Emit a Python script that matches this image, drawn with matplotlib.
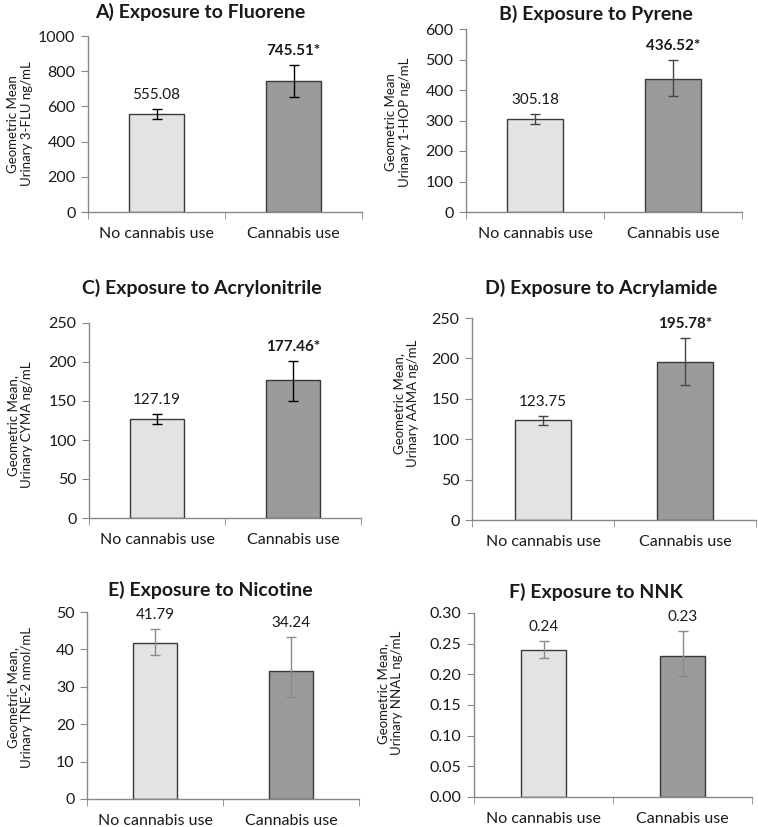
import numpy as np
import matplotlib
matplotlib.use('Agg')
import matplotlib.pyplot as plt

plt.rcParams['font.family'] = ['Lato', 'DejaVu Sans']

# Data
categories = ['No cannabis use', 'Cannabis use']
titles = ['A) Exposure to Fluorene', 'B) Exposure to Pyrene',
          'C) Exposure to Acrylonitrile', 'D) Exposure to Acrylamide',
          'E) Exposure to Nicotine', 'F) Exposure to NNK']
ylabels = ['Geometric Mean\nUrinary 3-FLU ng/mL', 'Geometric Mean\nUrinary 1-HOP ng/mL',
           'Geometric Mean,\nUrinary CYMA ng/mL', 'Geometric Mean,\nUrinary AAMA ng/mL',
           'Geometric Mean,\nUrinary TNE-2 nmol/mL', 'Geometric Mean,\nUrinary NNAL ng/mL']
means = [[555.08, 745.51], [305.18, 436.52], [127.19, 177.46],
         [123.75, 195.78], [41.79, 34.24], [0.24, 0.23]]
err_low = [[530, 655], [290, 380], [120.0, 149.6],
           [117.4, 166.5], [38.6, 27.2], [0.2266, 0.1967]]
err_high = [[583, 833], [321, 500], [133.8, 200.9],
            [129.3, 225.0], [45.55, 43.3], [0.2543, 0.2707]]
value_labels = [['555.08', '745.51*'], ['305.18', '436.52*'], ['127.19', '177.46*'],
                ['123.75', '195.78*'], ['41.79', '34.24'], ['0.24', '0.23']]
significant = [[False, True], [False, True], [False, True],
               [False, True], [False, False], [False, False]]
yticks = [np.arange(0, 1001, 200), np.arange(0, 601, 100), np.arange(0, 251, 50),
          np.arange(0, 251, 50), np.arange(0, 51, 10), np.arange(0, 0.31, 0.05)]
tick_fmt = ['{:.0f}', '{:.0f}', '{:.0f}', '{:.0f}', '{:.0f}', '{:.2f}']

W, H = 758, 827
# posisi sumbu dalam piksel: kiri, kanan, atas, bawah
boxes = [(88, 362, 36, 212), (466, 742, 29, 212), (89, 361, 323, 518),
         (472, 756, 318, 520), (87, 359, 612, 799), (474, 752, 613, 797)]
bar_widths = [0.40, 0.40, 0.39, 0.40, 0.32, 0.32]
err_colors = ['#000000', '#454545', '#000000', '#454545', '#8a8a8a', '#8a8a8a']
title_pos = [(200, 12), (596, 14), (202, 288), (601, 288), (210, 590), (596, 592)]
ylabel_pos = [(20, 124), (398, 122), (20, 425), (406, 403), (20, 697), (390, 693)]
bar_colors = ['#e3e3e1', '#9b9b9b']

fig = plt.figure(figsize=(W / 100, H / 100), dpi=100)

for i in range(6):
    l, r, t, b = boxes[i]
    ax = fig.add_axes([l / W, 1 - b / H, (r - l) / W, (b - t) / H])
    x = np.arange(len(categories))
    m = np.array(means[i])
    yerr = [m - np.array(err_low[i]), np.array(err_high[i]) - m]
    ax.bar(x, m, width=bar_widths[i], color=bar_colors, edgecolor='#3a3a3a', linewidth=1.0, zorder=2)
    ax.errorbar(x, m, yerr=yerr, fmt='none', ecolor=err_colors[i], elinewidth=1.0,
                capsize=3.5, capthick=1.0, zorder=3)
    for j in range(len(categories)):
        ax.annotate(value_labels[i][j], (x[j], err_high[i][j]), xytext=(0, 5),
                    textcoords='offset points', ha='center', va='bottom', fontsize=11,
                    fontweight='bold' if significant[i][j] else 'normal', color='#1a1a1a')
    ax.set_xlim(-0.5, 1.5)
    ax.set_ylim(yticks[i][0], yticks[i][-1])
    ax.set_yticks(yticks[i])
    ax.set_yticklabels([tick_fmt[i].format(v) for v in yticks[i]], fontsize=11.5, color='#1a1a1a')
    ax.set_xticks(x)
    ax.set_xticklabels(categories, fontsize=11.5, color='#1a1a1a')
    ax.set_xticks([-0.5, 0.5, 1.5], minor=True)
    ax.tick_params(axis='x', which='major', length=0, pad=11)
    ax.tick_params(axis='x', which='minor', length=5, color='#888888', direction='out')
    ax.tick_params(axis='y', length=5, color='#888888', direction='out', pad=4)
    for s in ['top', 'right']:
        ax.spines[s].set_visible(False)
    for s in ['left', 'bottom']:
        ax.spines[s].set_color('#888888')
        ax.spines[s].set_linewidth(1.0)
    fig.text(title_pos[i][0] / W, 1 - title_pos[i][1] / H, titles[i], ha='center', va='center',
             fontsize=14, fontweight='bold', color='#1a1a1a')
    fig.text(ylabel_pos[i][0] / W, 1 - ylabel_pos[i][1] / H, ylabels[i], ha='center', va='center',
             rotation=90, fontsize=9.5, color='#1a1a1a', linespacing=1.2)

fig.savefig('out.png', dpi=100)
